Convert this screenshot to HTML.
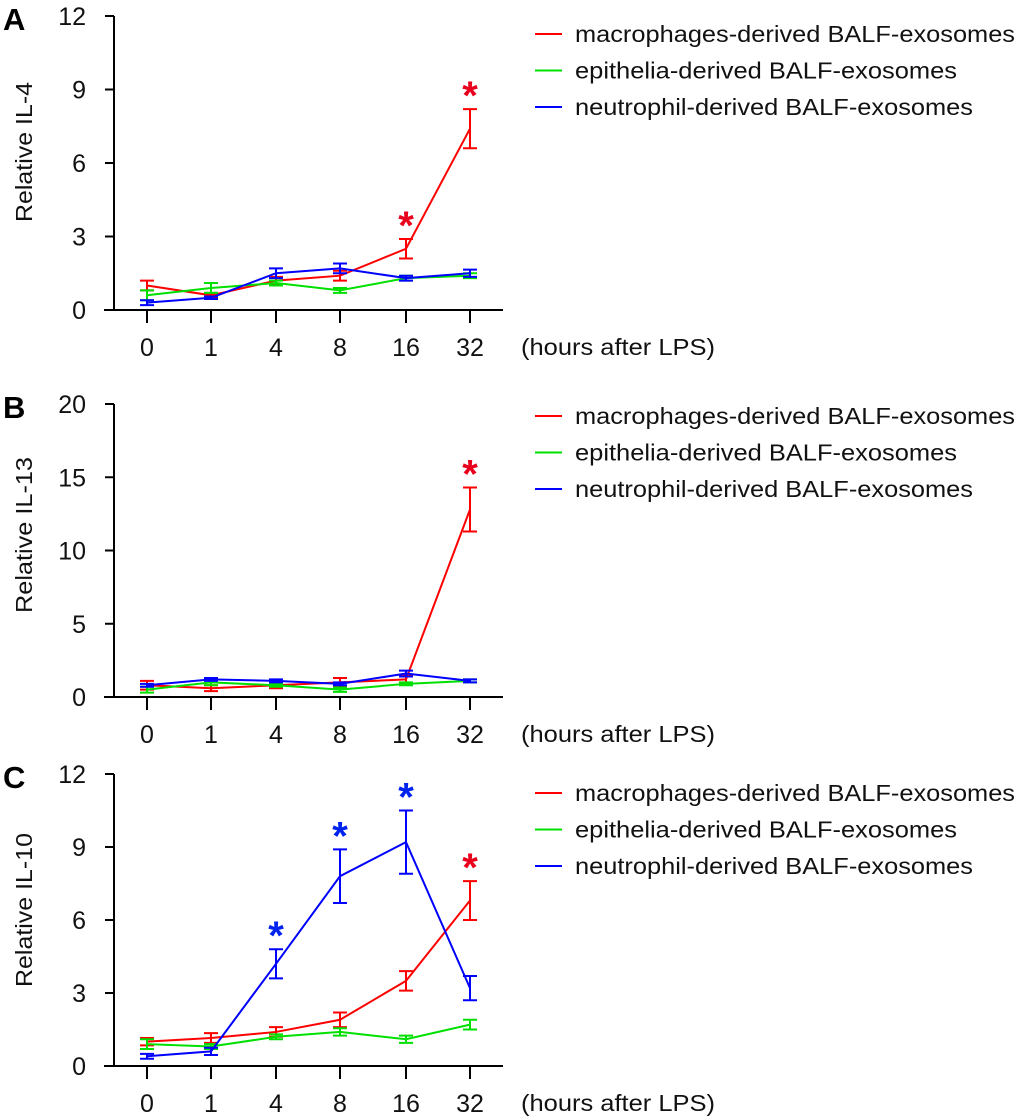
<!DOCTYPE html>
<html><head><meta charset="utf-8"><style>
body{margin:0;background:#fff;}
svg{display:block;font-family:"Liberation Sans",Arial,sans-serif;}
</style></head><body>
<svg id="c" width="1020" height="1118"></svg>
<script>
const categories=["0","1","4","8","16","32"];
const seriesNames=["macrophages-derived BALF-exosomes","epithelia-derived BALF-exosomes","neutrophil-derived BALF-exosomes"];
const colors=["#ff0000","#00e000","#0000ff"];
const aRed=[1.0,0.6,1.2,1.4,2.5,7.4], aRedErr=[0.2,0.1,0.15,0.2,0.4,0.8];
const aGreen=[0.6,0.9,1.1,0.8,1.3,1.4], aGreenErr=[0.2,0.2,0.1,0.1,0.1,0.1];
const aBlue=[0.3,0.5,1.5,1.7,1.3,1.5], aBlueErr=[0.1,0.05,0.2,0.2,0.1,0.15];
const bRed=[0.8,0.6,0.8,1.0,1.2,12.8], bRedErr=[0.3,0.2,0.2,0.3,0.3,1.5];
const bGreen=[0.5,1.0,0.8,0.5,0.9,1.1], bGreenErr=[0.2,0.2,0.1,0.15,0.1,0.1];
const bBlue=[0.8,1.2,1.1,0.9,1.6,1.1], bBlueErr=[0.1,0.1,0.1,0.1,0.2,0.1];
const cRed=[1.0,1.15,1.4,1.9,3.5,6.8], cRedErr=[0.15,0.2,0.2,0.3,0.4,0.8];
const cGreen=[0.9,0.8,1.2,1.4,1.1,1.7], cGreenErr=[0.2,0.1,0.1,0.15,0.15,0.2];
const cBlue=[0.4,0.6,4.2,7.8,9.2,3.2], cBlueErr=[0.1,0.15,0.6,1.1,1.3,0.5];
const aTicks=[0,3,6,9,12], bTicks=[0,5,10,15,20], cTicks=[0,3,6,9,12];
const aStars=[[0,4],[0,5]], bStars=[[0,5]], cStars=[[2,2],[2,3],[2,4],[0,5]];

const NS="http://www.w3.org/2000/svg";
const svg=document.getElementById('c');
function mk(tag,attrs,parent){const e=document.createElementNS(NS,tag);for(const k in attrs)e.setAttribute(k,attrs[k]);(parent||svg).appendChild(e);return e;}
const catX=[147,211,276,340,406,470];
function xPos(i){return catX[i];}
const legW=[440,382,398];

const panels=[
 {id:'a',letter:'A',label:'Relative IL-4',lw:140,lc:152,y0:310,y1:16,max:12,ticks:aTicks,data:[[aRed,aRedErr],[aGreen,aGreenErr],[aBlue,aBlueErr]],stars:aStars,legY:34},
 {id:'b',letter:'B',label:'Relative IL-13',lw:156,lc:535,y0:697,y1:404,max:20,ticks:bTicks,data:[[bRed,bRedErr],[bGreen,bGreenErr],[bBlue,bBlueErr]],stars:bStars,legY:416},
 {id:'c',letter:'C',label:'Relative IL-10',lw:154,lc:910,y0:1066,y1:774,max:12,ticks:cTicks,data:[[cRed,cRedErr],[cGreen,cGreenErr],[cBlue,cBlueErr]],stars:cStars,legY:793}
];
panels.forEach(p=>{
 const g=mk('g',{});
 
 
 const y=v=>p.y0-(v/p.max)*(p.y0-p.y1);
 const lt=mk('text',{x:3,y:p.y1+14,'font-size':31,'font-weight':'bold'},g);lt.textContent=p.letter;
 
 
 const ya=mk('line',{x1:114,y1:p.y1,x2:114,y2:p.y0,stroke:'#000','stroke-width':2},g);
 
 
 p.ticks.forEach(t=>{
  mk('line',{x1:105,x2:114,y1:y(t),y2:y(t),stroke:'#000','stroke-width':2},g);
  const tt=mk('text',{x:86,y:y(t)+9,'font-size':25,'text-anchor':'end',fill:'#111'},g);tt.textContent=t;
  
  
 });
 const xa=mk('line',{x1:104,y1:p.y0,x2:503,y2:p.y0,stroke:'#000','stroke-width':2},g);
 
 
 categories.forEach((c,i)=>{
  mk('line',{x1:xPos(i),x2:xPos(i),y1:p.y0,y2:p.y0+13,stroke:'#000','stroke-width':2},g);
  const tt=mk('text',{x:xPos(i),y:p.y0+46,'font-size':25,'text-anchor':'middle',fill:'#111'},g);tt.textContent=c;
  
  
 });
 const xt=mk('text',{x:521,y:p.y0+45,'font-size':23,fill:'#111',textLength:194,lengthAdjust:'spacingAndGlyphs'},g);xt.textContent='(hours after LPS)';
 
 
 const yt=mk('text',{x:0,y:0,'font-size':23,'text-anchor':'middle',fill:'#111',textLength:p.lw,lengthAdjust:'spacingAndGlyphs',transform:`translate(32,${p.lc}) rotate(-90)`},g);yt.textContent=p.label;
 
 
 p.data.forEach((d,s)=>{
  const [vals,errs]=d;
  const pts=vals.map((v,i)=>xPos(i)+','+y(v)).join(' ');
  const pl=mk('polyline',{points:pts,fill:'none',stroke:colors[s],'stroke-width':2},g);
  
  
  vals.forEach((v,i)=>{
   const x=xPos(i),hi=y(v+errs[i]),lo=y(v-errs[i]);
   const eb=mk('path',{d:`M${x},${hi}V${lo}M${x-7},${hi}H${x+7}M${x-7},${lo}H${x+7}`,stroke:colors[s],'stroke-width':2,fill:'none'},g);
   
   
  });
 });
 p.stars.forEach(([s,i])=>{
  const d=p.data[s];
  const st=mk('text',{x:xPos(i),y:y(d[0][i]+d[1][i])+0,'font-size':40,'font-weight':'bold','text-anchor':'middle',fill:colors[s]==='#ff0000'?'#e8001c':'#0022ee'},g);st.textContent='*';
  
  
 });
 seriesNames.forEach((n,s)=>{
  const ly=p.legY+s*36.5;
  const le=mk('g',{},g);
  
  
  mk('line',{x1:535,x2:562,y1:ly,y2:ly,stroke:colors[s],'stroke-width':2},le);
  const tt=mk('text',{x:575,y:ly+8,'font-size':23,fill:'#111',textLength:legW[s],lengthAdjust:'spacingAndGlyphs'},le);tt.textContent=n;
 });
});
</script>
</body></html>
